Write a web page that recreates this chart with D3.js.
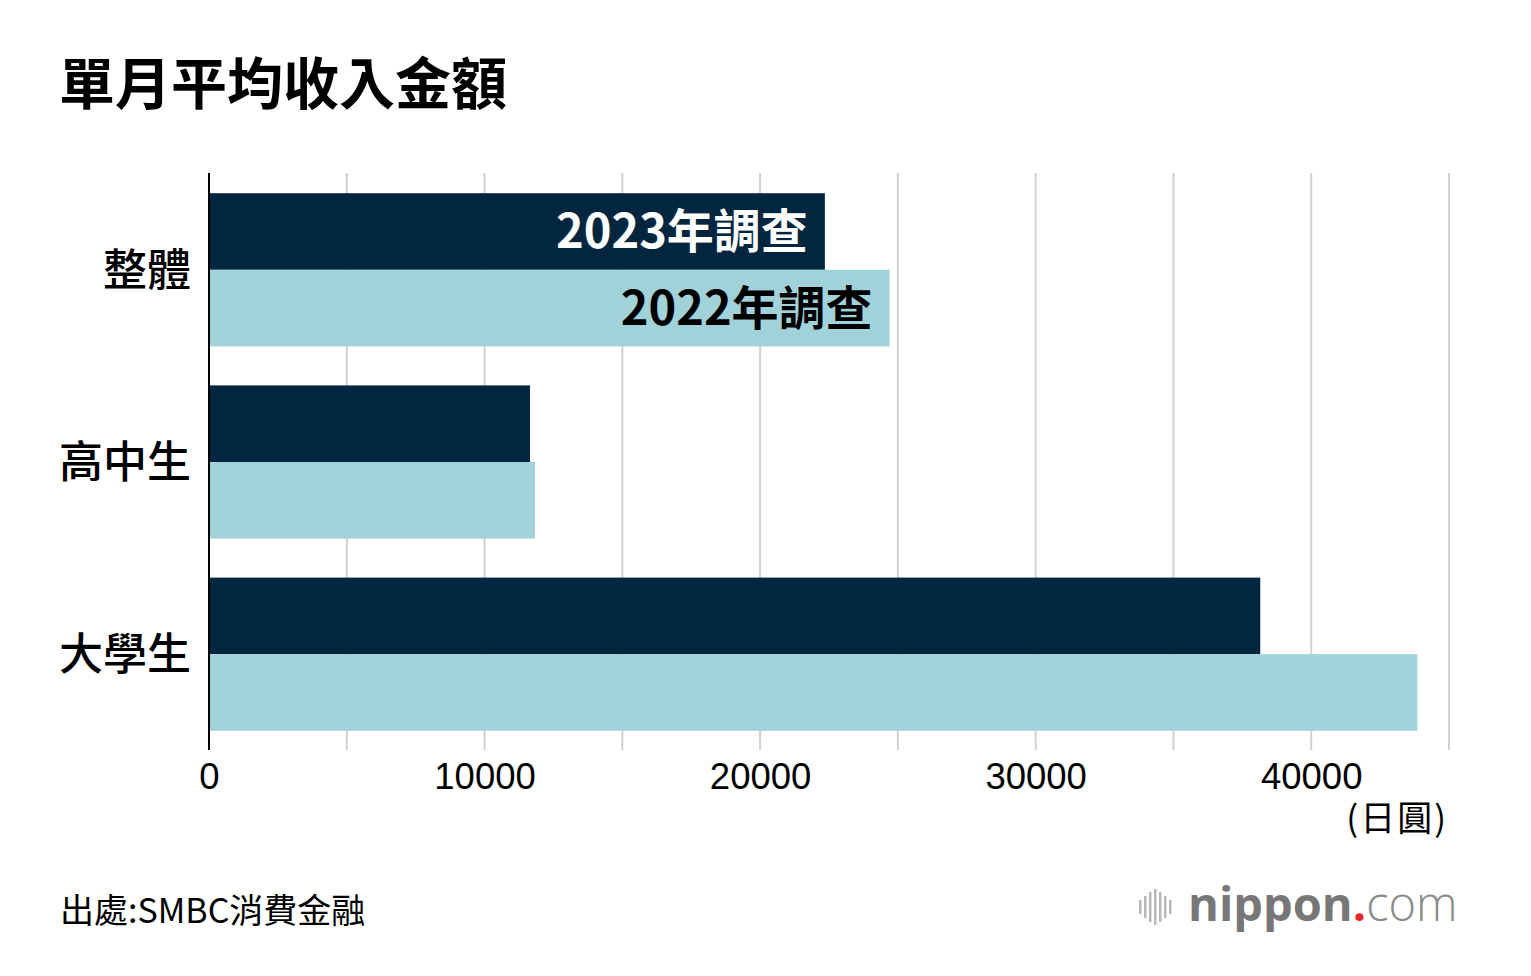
<!DOCTYPE html>
<html><head><meta charset="utf-8">
<script src="https://cdn.jsdelivr.net/npm/d3@7"></script>
<style>
body{margin:0;background:#fff;}
svg{display:block;}
</style></head>
<body>
<svg id="chart" width="1531" height="976"></svg>
<script>
const categories = ["整體", "高中生", "大學生"];
const series = ["2023年調查", "2022年調查"];
const values2023 = [22350, 11650, 38150];
const values2022 = [24700, 11830, 43850];
const tickValues = [0, 10000, 20000, 30000, 40000];
const gridValues = [5000, 10000, 15000, 20000, 25000, 30000, 35000, 40000, 45000];

const colors = {"2023年調查": "#032640", "2022年調查": "#a2d2d9"};
const cjk = "'Noto Sans CJK TC','Noto Sans CJK SC',sans-serif";

const svg = d3.select("#chart");
const x = d3.scaleLinear().domain([0, 45000]).range([209, 1449]);
const y0 = d3.scaleBand().domain(categories).range([174, 750]).paddingInner(0.203).paddingOuter(0.1);
const y1 = d3.scaleBand().domain(series).range([0, y0.bandwidth()]);

// title
svg.append("text").attr("x", 59).attr("y", 104)
  .attr("font-family", cjk).attr("font-weight", 700).attr("font-size", 56)
  .attr("fill", "#000").text("單月平均收入金額");

// gridlines
svg.append("g").selectAll("line").data(gridValues).join("line")
  .attr("x1", d => x(d)).attr("x2", d => x(d))
  .attr("y1", 173).attr("y2", 750)
  .attr("stroke", "#d0d0d0").attr("stroke-width", 2);

// bars
const data = categories.map((c, i) => ({cat: c, vals: [
  {s: series[0], v: values2023[i]}, {s: series[1], v: values2022[i]}]}));
const groups = svg.append("g").selectAll("g").data(data).join("g")
  .attr("transform", d => `translate(0,${y0(d.cat)})`);
groups.selectAll("rect").data(d => d.vals).join("rect")
  .attr("x", x(0)).attr("y", d => y1(d.s))
  .attr("width", d => x(d.v) - x(0)).attr("height", y1.bandwidth())
  .attr("fill", d => colors[d.s]);

// bar series labels on first category
const first = data[0];
svg.append("g").attr("transform", `translate(0,${y0(first.cat)})`)
  .selectAll("text").data(first.vals).join("text")
  .attr("x", d => x(d.v) - 17)
  .attr("y", d => y1(d.s) + y1.bandwidth() / 2)
  .attr("dy", "0.36em")
  .attr("text-anchor", "end")
  .attr("font-family", cjk).attr("font-weight", 700).attr("font-size", 47)
  .attr("fill", (d, i) => i === 0 ? "#fff" : "#000")
  .text(d => d.s);

// y axis line
svg.append("line").attr("x1", x(0)).attr("x2", x(0)).attr("y1", 173).attr("y2", 750)
  .attr("stroke", "#000").attr("stroke-width", 2);

// category labels
svg.append("g").selectAll("text").data(categories).join("text")
  .attr("x", 191).attr("y", d => y0(d) + y0.bandwidth() / 2)
  .attr("dy", "0.36em").attr("text-anchor", "end")
  .attr("font-family", cjk).attr("font-weight", 500).attr("font-size", 44)
  .attr("fill", "#000").text(d => d);

// x axis tick labels
const xAxis = d3.axisBottom(x).tickValues(tickValues).tickSize(0).tickPadding(0).tickFormat(d3.format("d"));
const xg = svg.append("g").attr("transform", "translate(0,763)").call(xAxis);
xg.select(".domain").remove();
xg.selectAll("text").attr("font-family", "'Liberation Sans',Arial,sans-serif")
  .attr("font-size", 36.5).attr("fill", "#000").attr("dy", "0.71em");

// unit
svg.append("text").attr("x", 1448).attr("y", 831).attr("text-anchor", "end")
  .attr("font-family", cjk).attr("font-weight", 400).attr("font-size", 35)
  .attr("letter-spacing", 2)
  .attr("fill", "#000").text("(日圓)");

// source
svg.append("text").attr("x", 60).attr("y", 923)
  .attr("font-family", cjk).attr("font-weight", 400).attr("font-size", 34)
  .attr("fill", "#000").text("出處:SMBC消費金融");

// logo
const logo = svg.append("g");
const barH = [14, 22, 30, 36, 30, 22, 14];
logo.selectAll("rect").data(barH).join("rect")
  .attr("x", (d, i) => 1139 + i * 5).attr("y", d => 907 - d / 2)
  .attr("width", 2.5).attr("height", d => d).attr("fill", "#b8b8b8");
const lt = logo.append("text").attr("x", 1188).attr("y", 921)
  .attr("font-family", "'Open Sans','Noto Sans',sans-serif").attr("font-size", 47).attr("fill", "#777");
lt.append("tspan").attr("font-weight", 700).text("nippon");
lt.append("tspan").attr("font-weight", 700).attr("fill", "#e8262b").text(".");
lt.append("tspan").attr("font-weight", 300).attr("fill", "#8a8a8a").text("com");
</script>
</body></html>
